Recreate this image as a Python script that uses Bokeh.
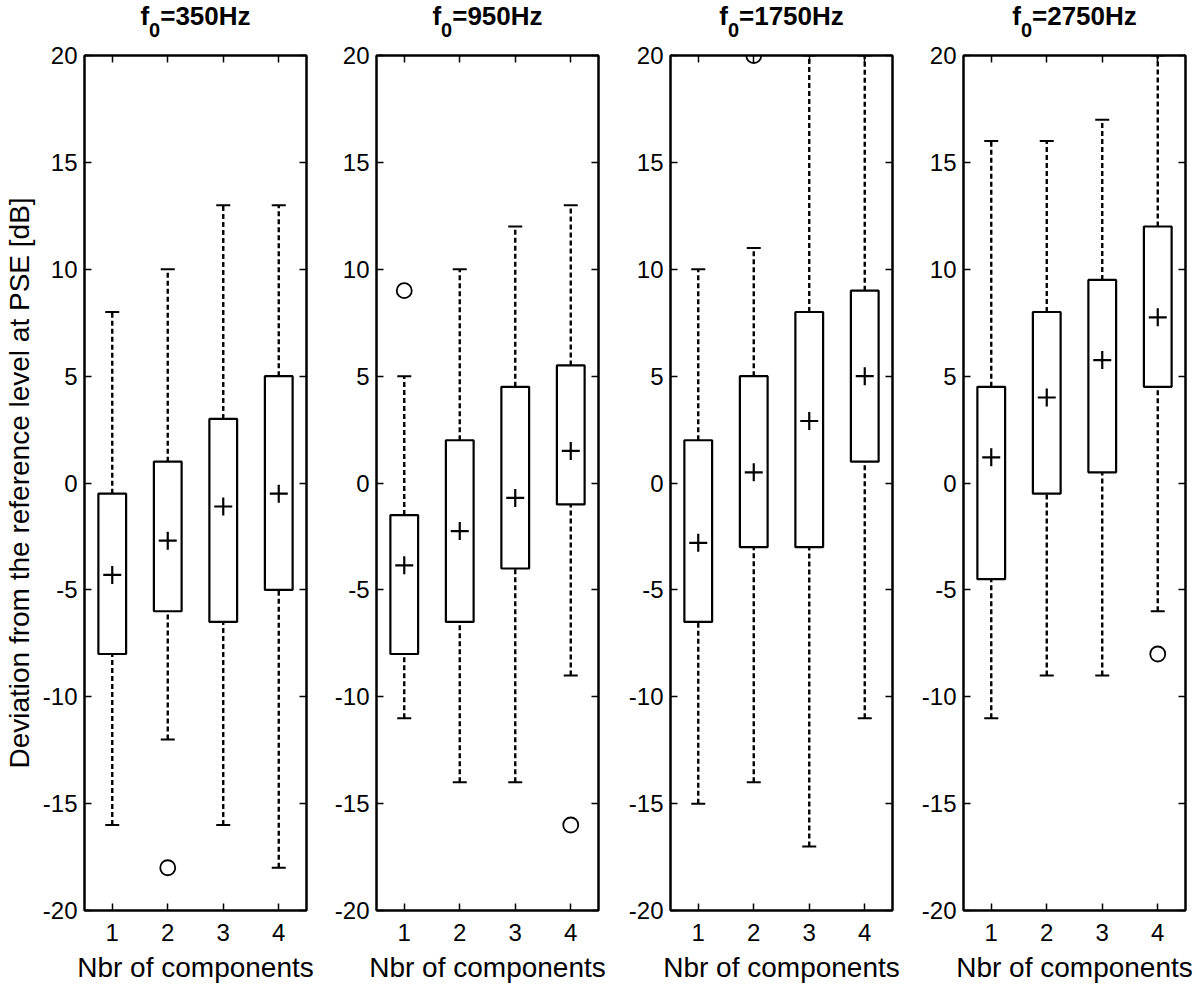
import numpy as np
from bokeh.plotting import figure
from bokeh.models import (LinearAxis, FixedTicker, Range1d, Whisker,
                          ColumnDataSource, TeeHead)
from bokeh.core.properties import value
from bokeh.layouts import row, column
from bokeh.embed import file_html
from bokeh.resources import INLINE

# ---------------- data ----------------
title_prefix = "f"
title_subscript = "0"
title_values = ["=350Hz", "=950Hz", "=1750Hz", "=2750Hz"]
components = [1, 2, 3, 4]
x_tick_labels = ["1", "2", "3", "4"]
y_ticks = [-20, -15, -10, -5, 0, 5, 10, 15, 20]
y_tick_labels = ["-20", "-15", "-10", "-5", "0", "5", "10", "15", "20"]
x_label = "Nbr of components"
y_label = "Deviation from the reference level at PSE [dB]"

# f0 = 350 Hz
lower_350 = [-16, -12, -16, -18]
q1_350 = [-8, -6, -6.5, -5]
median_350 = [-6, -3.5, -2.5, -1.5]
q3_350 = [-0.5, 1, 3, 5]
upper_350 = [8, 10, 13, 13]
mean_350 = [-4.3, -2.7, -1.1, -0.5]
outlier_x_350 = [2]
outlier_y_350 = [-18]

# f0 = 950 Hz
lower_950 = [-11, -14, -14, -9]
q1_950 = [-8, -6.5, -4, -1]
median_950 = [-5, -3.5, -1.5, 1.5]
q3_950 = [-1.5, 2, 4.5, 5.5]
upper_950 = [5, 10, 12, 13]
mean_950 = [-3.85, -2.25, -0.7, 1.5]
outlier_x_950 = [1, 4]
outlier_y_950 = [9, -16]

# f0 = 1750 Hz
lower_1750 = [-15, -14, -17, -11]
q1_1750 = [-6.5, -3, -3, 1]
median_1750 = [-4, -0.5, 3.5, 4]
q3_1750 = [2, 5, 8, 9]
upper_1750 = [10, 11, 20, 20]
mean_1750 = [-2.8, 0.5, 2.9, 5.0]
outlier_x_1750 = [2]
outlier_y_1750 = [20]

# f0 = 2750 Hz
lower_2750 = [-11, -9, -9, -6]
q1_2750 = [-4.5, -0.5, 0.5, 4.5]
median_2750 = [1, 4.5, 6.5, 8]
q3_2750 = [4.5, 8, 9.5, 12]
upper_2750 = [16, 16, 17, 20]
mean_2750 = [1.2, 4.0, 5.75, 7.75]
outlier_x_2750 = [4]
outlier_y_2750 = [-8]

panels = [
    (lower_350, q1_350, median_350, q3_350, upper_350, mean_350, outlier_x_350, outlier_y_350),
    (lower_950, q1_950, median_950, q3_950, upper_950, mean_950, outlier_x_950, outlier_y_950),
    (lower_1750, q1_1750, median_1750, q3_1750, upper_1750, mean_1750, outlier_x_1750, outlier_y_1750),
    (lower_2750, q1_2750, median_2750, q3_2750, upper_2750, mean_2750, outlier_x_2750, outlier_y_2750),
]

FONT = "Liberation Sans"
BOX_W = 0.5
TITLE_PX = 26
SUB_PX = 20
FRAME_W = 222
FRAME_H = 855
TITLE_H = 41
MAIN_TOP = 14
MAIN_MID = 26   # vertical centre of the main title text inside the strip
SUB_MID = 12    # vertical centre of the lowered "0" inside the strip
borders = [(81, 19), (51, 21), (51, 20), (51, 12)]

# approximate bold Arial advance widths (em) used to centre the title pieces
BOLD_W = {"f": 0.333, "=": 0.584, "H": 0.722, "z": 0.5}
for d in "0123456789":
    BOLD_W[d] = 0.556


def text_width(s, px):
    return sum(BOLD_W.get(c, 0.556) for c in s) * px


def style_axis(ax, labels=True, standoff=8):
    ax.major_tick_in = 7
    ax.major_tick_out = 0
    ax.minor_tick_line_color = None
    ax.axis_line_width = 2
    ax.axis_line_color = "black"
    ax.major_tick_line_width = 1.5
    ax.major_tick_line_color = "black"
    if labels:
        ax.major_label_text_font = FONT
        ax.major_label_text_font_size = "24px"
        ax.major_label_text_color = "black"
        ax.major_label_standoff = standoff
    else:
        ax.major_label_text_font_size = "1px"
        ax.major_label_text_color = None
        ax.major_label_standoff = 0


columns = []
for i, (lo, q1, med, q3, hi, mean, ox, oy) in enumerate(panels):
    bl, br = borders[i]

    # ---- title strip: "f" + lowered "0" + "=...Hz" centred over the frame
    t = figure(frame_width=FRAME_W, frame_height=TITLE_H,
               x_range=Range1d(0.5, 4.5), y_range=Range1d(0, TITLE_H),
               x_axis_type=None, y_axis_type=None,
               output_backend="svg", toolbar_location=None,
               min_border_left=bl, min_border_right=br,
               min_border_top=0, min_border_bottom=0)
    t.grid.visible = False
    t.outline_line_color = None
    w_f = text_width(title_prefix, TITLE_PX)
    w_0 = text_width(title_subscript, SUB_PX)
    w_v = text_width(title_values[i], TITLE_PX)
    start = -(w_f + w_0 + w_v) / 2.0
    xc = (t.x_range.start + t.x_range.end) / 2.0
    common = dict(text_font=value(FONT), text_font_style="bold",
                  text_color="black", text_align="left",
                  text_baseline="middle")
    t.text(x=[xc], y=[MAIN_MID], text=[title_prefix], x_offset=start,
           text_font_size=value(f"{TITLE_PX}px"), **common)
    t.text(x=[xc], y=[SUB_MID], text=[title_subscript], x_offset=start + w_f,
           text_font_size=value(f"{SUB_PX}px"), **common)
    t.text(x=[xc], y=[MAIN_MID], text=[title_values[i]], x_offset=start + w_f + w_0,
           text_font_size=value(f"{TITLE_PX}px"), **common)

    # ---- main panel
    p = figure(frame_width=FRAME_W, frame_height=FRAME_H,
               x_range=Range1d(0.5, 4.5), y_range=Range1d(-20, 20),
               output_backend="svg", toolbar_location=None,
               min_border_left=bl, min_border_right=br,
               min_border_top=MAIN_TOP, min_border_bottom=70)
    p.xgrid.visible = False
    p.ygrid.visible = False
    p.outline_line_color = "black"
    p.outline_line_width = 2
    p.background_fill_color = "white"
    p.border_fill_color = "white"

    xa = p.xaxis[0]
    ya = p.yaxis[0]
    xa.ticker = FixedTicker(ticks=components)
    xa.major_label_overrides = dict(zip(components, x_tick_labels))
    ya.ticker = FixedTicker(ticks=y_ticks)
    ya.major_label_overrides = dict(zip(y_ticks, y_tick_labels))
    style_axis(xa, standoff=13)
    style_axis(ya, standoff=7)
    xa.axis_label = x_label
    xa.axis_label_text_font = FONT
    xa.axis_label_text_font_size = "28px"
    xa.axis_label_text_font_style = "normal"
    xa.axis_label_text_color = "black"
    xa.axis_label_standoff = 8
    if i == 0:
        ya.axis_label = y_label
        ya.axis_label_text_font = FONT
        ya.axis_label_text_font_size = "28px"
        ya.axis_label_text_font_style = "normal"
        ya.axis_label_text_color = "black"
        ya.axis_label_standoff = 5

    ra = LinearAxis(ticker=FixedTicker(ticks=y_ticks))
    style_axis(ra, labels=False)
    p.add_layout(ra, "right")
    ta = LinearAxis(ticker=FixedTicker(ticks=components))
    style_axis(ta, labels=False)
    p.add_layout(ta, "above")

    src = ColumnDataSource(dict(x=components, lo=lo, q1=q1, med=med, q3=q3,
                                hi=hi, mean=mean))
    # whiskers
    p.add_layout(Whisker(source=src, base="x", lower="q3", upper="hi",
                         dimension="height", line_color="black",
                         line_width=2.4, line_dash="5 3",
                         upper_head=TeeHead(size=14, line_width=2, line_color="black"),
                         lower_head=None))
    p.add_layout(Whisker(source=src, base="x", lower="lo", upper="q1",
                         dimension="height", line_color="black",
                         line_width=2.4, line_dash="5 3",
                         lower_head=TeeHead(size=14, line_width=2, line_color="black"),
                         upper_head=None))
    # boxes
    p.vbar(x="x", width=BOX_W, bottom="q1", top="q3", source=src,
           fill_color="white", line_color="black", line_width=2.2)
    # medians
    p.rect(x="x", y="med", width=BOX_W, height=0, source=src,
           fill_color=None, line_color="black", line_width=2)
    # means
    p.scatter(x="x", y="mean", source=src, marker="cross", size=18,
              line_color="black", line_width=2.2)
    # outliers
    p.scatter(x=ox, y=oy, marker="circle", size=15, fill_color=None,
              line_color="black", line_width=1.8)

    columns.append(column(t, p, spacing=0))

layout = row(*columns, spacing=0)
open("out.html", "w").write(file_html(layout, INLINE))
